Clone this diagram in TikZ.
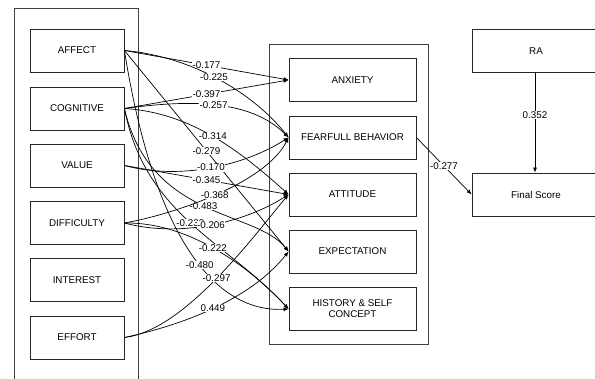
\documentclass[tikz,border=0pt]{standalone}
\usepackage{fontspec}
\setmainfont{Liberation Sans}
\usetikzlibrary{arrows.meta}
\begin{document}
\begin{tikzpicture}[x=1pt,y=-1pt,
  txt/.style={font=\fontsize{9.8}{11}\selectfont},
  lbox/.style={txt, draw=black!85, line width=0.8pt, minimum width=94pt, minimum height=43pt, inner sep=0pt, align=center},
  mbox/.style={lbox, minimum width=127pt},
  rbox/.style={lbox, minimum width=128pt},
  cont/.style={draw=black!75, line width=0.9pt},
  conn/.style={line width=0.7pt, draw=black, -{Latex[length=5pt,width=4pt]}},
  lbl/.style={txt, fill=white, inner sep=0.5pt}
]
\clip (0,0) rectangle (595,379);
\fill[white] (0,0) rectangle (595,379);
% containers
\draw[cont] (14,390) -- (14,8) -- (138,8) -- (138,390);
\draw[cont] (269,44) rectangle (428,344);
% left boxes
\node[lbox] (aff) at (77,50.5) {AFFECT};
\node[lbox] (cog) at (77,108.5) {COGNITIVE};
\node[lbox] (val) at (77,165.5) {VALUE};
\node[lbox] (dif) at (77,223) {DIFFICULTY};
\node[lbox] (int) at (77,280) {INTEREST};
\node[lbox] (eff) at (77,337.5) {EFFORT};
% middle boxes
\node[mbox] (anx) at (352.5,80) {ANXIETY};
\node[mbox] (fear) at (352.5,137.5) {FEARFULL BEHAVIOR};
\node[mbox] (att) at (352.5,194.5) {ATTITUDE};
\node[mbox] (exp) at (352.5,251.5) {EXPECTATION};
\node[mbox] (hist) at (352.5,309) {HISTORY \& SELF\\CONCEPT};
% right boxes
\node[rbox] (ra) at (536,51) {RA};
\node[rbox] (fin) at (536,194.5) {Final Score};
% AFFECT
\draw[conn] (aff.east) -- node[lbl,pos=0.5] {-0.177} (anx.west);
\draw[conn] (aff.east) .. controls +(60,5) and +(-40,-50) .. node[lbl,pos=0.5] {-0.225} (fear.west);
\draw[conn] (aff.east) -- node[lbl,pos=0.5] {-0.279} (exp.west);
\draw[conn] (aff.east) .. controls +(36,224) and +(-54,3) .. node[lbl,pos=0.5] {-0.480} (hist.west);
% COGNITIVE
\draw[conn] (cog.east) -- node[lbl,pos=0.5] {-0.397} (anx.west);
\draw[conn] (cog.east) .. controls +(59,-8) and +(-40,-40) .. node[lbl,pos=0.5] {-0.257} (fear.west);
\draw[conn] (cog.east) .. controls +(66,4) and +(-49,-44) .. node[lbl,pos=0.5] {-0.314} (att.west);
\draw[conn] (cog.east) .. controls +(26,112) and +(-34,-42) .. node[lbl,pos=0.5] {-0.483} (exp.west);
\draw[conn] (cog.east) .. controls +(21,107) and +(-64,-69) .. node[lbl,pos=0.5] {-0.233} (hist.west);
% VALUE
\draw[conn] (val.east) .. controls +(56,15) and +(-44,28) .. node[lbl,pos=0.5] {-0.170} (fear.west);
\draw[conn] (val.east) -- node[lbl,pos=0.5] {-0.345} (att.west);
% DIFFICULTY
\draw[conn] (dif.east) .. controls +(46,-8) and +(-24,47) .. node[lbl,pos=0.5] {-0.368} (fear.west);
\draw[conn] (dif.east) .. controls +(56,15) and +(-44,28) .. node[lbl,pos=0.5] {-0.206} (att.west);
\draw[conn] (dif.east) .. controls +(61,-1) and +(-44,-47) .. node[lbl,pos=0.5] {-0.222} (hist.west);
% EFFORT
\draw[conn] (eff.east) .. controls +(61,-7) and +(-34,40) .. node[lbl,pos=0.5] {-0.297} (att.west);
\draw[conn] (eff.east) .. controls +(56,-12) and +(-39,49) .. node[lbl,pos=0.5] {0.449} (exp.west);
% right part
\draw[conn] (fear.east) -- node[lbl,pos=0.5] {-0.277} (fin.west);
\draw[conn] (ra.south -| 535,0) -- node[lbl,pos=0.42] {0.352} (fin.north -| 535,0);
\end{tikzpicture}
\end{document}
